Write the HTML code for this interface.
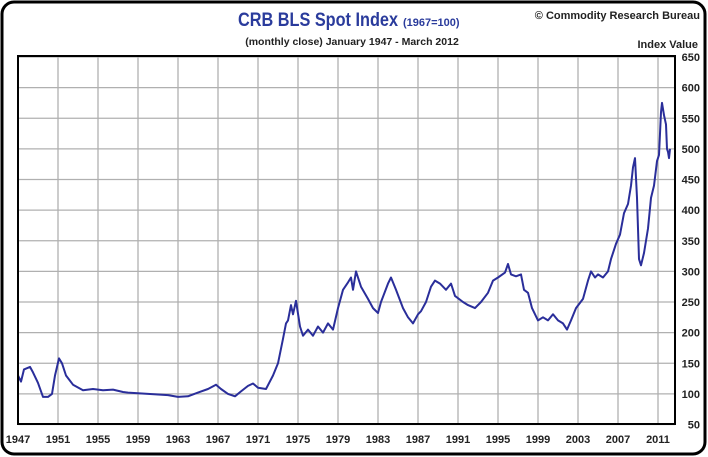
<!DOCTYPE html>
<html><head><meta charset="utf-8"><style>
body{margin:0;background:#fff;}
svg{display:block;font-family:"Liberation Sans",Arial,sans-serif;}
</style></head><body>
<svg id="chart" width="708" height="457">
<rect x="2" y="2" width="703" height="452" rx="12" fill="#fff" stroke="#000" stroke-width="3"/>
<text x="238" y="26" fill="#2a3b9c" font-weight="bold"><tspan font-size="19" textLength="160" lengthAdjust="spacingAndGlyphs">CRB BLS Spot Index</tspan><tspan font-size="11" dx="5">(1967=100)</tspan></text>
<text x="352" y="45" text-anchor="middle" font-size="10.5" font-weight="bold" fill="#222">(monthly close) January 1947 - March 2012</text>
<text x="700" y="19" text-anchor="end" font-size="11" font-weight="bold" fill="#222">© Commodity Research Bureau</text>
<text x="698" y="48" text-anchor="end" font-size="11" font-weight="bold" fill="#222">Index Value</text>
<g id="grid"></g>
<path id="line" fill="none" stroke="#2a2e9a" stroke-width="2" stroke-linejoin="round"/>
<rect x="18" y="56" width="657" height="368" fill="none" stroke="#000" stroke-width="2"/>
<g id="labels"></g>
</svg>
<script>
const yTicks=[50,100,150,200,250,300,350,400,450,500,550,600,650];
const xTicks=[1947,1951,1955,1959,1963,1967,1971,1975,1979,1983,1987,1991,1995,1999,2003,2007,2011];
const years=[1947.0,1947.3,1947.6,1948.2,1948.5,1949.0,1949.5,1950.0,1950.4,1950.7,1951.1,1951.4,1951.8,1952.5,1953.5,1954.5,1955.5,1956.5,1957.5,1958,1959,1960,1961,1962,1963,1964,1965,1966,1966.8,1967.3,1968,1968.7,1969.3,1970,1970.5,1971,1971.8,1972.5,1973.0,1973.5,1973.8,1974.0,1974.3,1974.5,1974.8,1975.2,1975.5,1976,1976.5,1977,1977.5,1978,1978.5,1979,1979.5,1980.0,1980.3,1980.5,1980.8,1981.3,1982,1982.5,1983,1983.3,1984,1984.3,1984.8,1985.5,1986,1986.5,1987,1987.3,1987.8,1988.3,1988.7,1989.2,1989.8,1990.3,1990.7,1991.5,1992,1992.7,1993.3,1994,1994.5,1995,1995.7,1996,1996.3,1996.8,1997.3,1997.6,1998,1998.4,1999,1999.5,2000,2000.5,2001,2001.5,2001.9,2002.3,2002.8,2003.5,2004,2004.3,2004.7,2005,2005.5,2006,2006.3,2006.8,2007.2,2007.6,2008,2008.3,2008.5,2008.7,2008.9,2009.1,2009.3,2009.6,2010,2010.3,2010.6,2010.9,2011.1,2011.3,2011.4,2011.6,2011.8,2011.9,2012.0,2012.1,2012.2];
const values=[130,120,140,144,135,118,95,95,100,130,158,150,130,115,106,108,106,107,103,102,101,100,99,98,95,96,102,108,115,108,100,96,104,113,117,110,108,130,150,190,215,220,245,230,252,210,195,205,195,210,200,215,205,240,270,282,290,270,300,275,255,240,232,250,280,290,270,240,225,215,230,235,250,275,285,280,270,280,260,250,245,240,250,265,285,290,298,312,295,292,295,270,265,240,220,225,220,230,220,215,205,220,240,255,285,300,290,295,290,300,320,345,360,395,410,440,470,485,420,320,310,330,370,420,440,480,490,560,575,555,540,500,495,485,500];
const X=y=>18+(y-1947)*10;
const Y=v=>424.5-(v-50)*0.6125;
const NS="http://www.w3.org/2000/svg";
const grid=document.getElementById('grid'),labels=document.getElementById('labels');
yTicks.forEach(t=>{
 const l=document.createElementNS(NS,'line');
 l.setAttribute('x1',18);l.setAttribute('x2',675);l.setAttribute('y1',Y(t));l.setAttribute('y2',Y(t));
 l.setAttribute('stroke','#b0b0b0');l.setAttribute('stroke-width','1.3');
 
 
 grid.appendChild(l);
 const tx=document.createElementNS(NS,'text');
 tx.setAttribute('x',700);tx.setAttribute('y',Y(t)+4);tx.setAttribute('text-anchor','end');
 tx.setAttribute('font-size','11');tx.setAttribute('font-weight','bold');tx.setAttribute('fill','#222');
 tx.textContent=t;
 
 
 labels.appendChild(tx);
});
xTicks.forEach(t=>{
 const l=document.createElementNS(NS,'line');
 l.setAttribute('x1',X(t));l.setAttribute('x2',X(t));l.setAttribute('y1',56);l.setAttribute('y2',424);
 l.setAttribute('stroke','#b0b0b0');l.setAttribute('stroke-width','1.3');
 
 
 grid.appendChild(l);
 const tx=document.createElementNS(NS,'text');
 tx.setAttribute('x',X(t));tx.setAttribute('y',443);tx.setAttribute('text-anchor','middle');
 tx.setAttribute('font-size','11');tx.setAttribute('font-weight','bold');tx.setAttribute('fill','#222');
 tx.textContent=t;
 
 
 labels.appendChild(tx);
});
document.getElementById('line').setAttribute('d',years.map((y,i)=>(i?'L':'M')+X(y).toFixed(1)+' '+Y(values[i]).toFixed(1)).join(''));
</script>
</body></html>
